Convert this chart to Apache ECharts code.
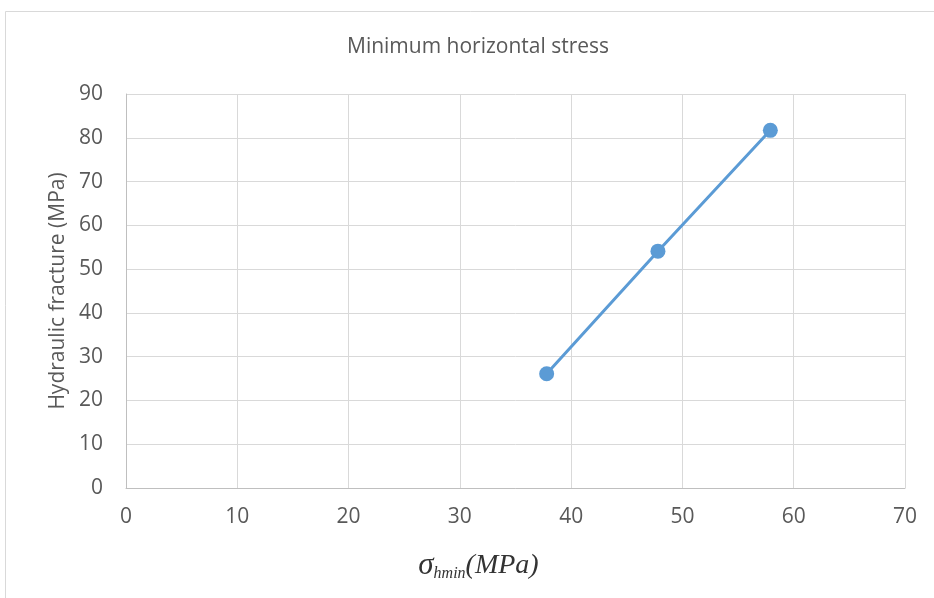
<!DOCTYPE html>
<html>
<head>
<meta charset="utf-8">
<script src="https://cdn.jsdelivr.net/npm/echarts@6/dist/echarts.min.js"></script>
<style>html,body{margin:0;padding:0;background:#fff;}#c{width:934px;height:598px;}</style>
</head>
<body>
<div id="c"></div>
<script>
var xValues = [37.8, 47.8, 57.9];
var yValues = [26.1, 54.1, 81.7];
var chartTitle = 'Minimum horizontal stress';
var yAxisName = 'Hydraulic fracture (MPa)';

var chart = echarts.init(document.getElementById('c'), null, {renderer: 'canvas'});
var pts = xValues.map(function (x, i) { return [x, yValues[i]]; });
chart.setOption({
  animation: false,
  backgroundColor: '#ffffff',
  graphic: [{
    type: 'rect', z: -10, silent: true,
    shape: {x: 5.5, y: 11.5, width: 1000, height: 1000},
    style: {fill: 'none', stroke: '#d9d9d9', lineWidth: 1}
  }],
  title: {
    text: chartTitle, left: 342, top: 32,
    textStyle: {fontFamily: 'Open Sans', fontSize: 21, fontWeight: 'normal', color: '#595959'}
  },
  grid: {left: 126, right: 29, top: 94, bottom: 110, containLabel: false},
  xAxis: {
    type: 'value', min: 0, max: 70, interval: 10,
    name: '{s|σ}{sub|hmin}{p|(MPa)}', nameLocation: 'middle', nameGap: 62,
    nameTextStyle: {
      padding: [0, 74, 0, 0],
      rich: {
        s: {fontFamily: 'Liberation Serif', fontStyle: 'italic', fontSize: 31, color: '#333'},
        sub: {fontFamily: 'Liberation Serif', fontStyle: 'italic', fontSize: 16, color: '#333', verticalAlign: 'bottom', padding: [16, 0, 0, 0]},
        p: {fontFamily: 'Liberation Serif', fontStyle: 'italic', fontSize: 28, color: '#333'}
      }
    },
    axisLine: {show: true, lineStyle: {color: '#bfbfbf', width: 1}},
    axisTick: {show: false},
    axisLabel: {margin: 19, fontFamily: 'Open Sans', fontSize: 21, color: '#595959'},
    splitLine: {show: true, lineStyle: {color: '#d9d9d9', width: 1}}
  },
  yAxis: {
    type: 'value', min: 0, max: 90, interval: 10,
    name: yAxisName, nameLocation: 'middle', nameGap: 57, nameRotate: 90,
    nameTextStyle: {fontFamily: 'Open Sans', fontSize: 21, color: '#595959'},
    axisLine: {show: true, lineStyle: {color: '#bfbfbf', width: 1}},
    axisTick: {show: false},
    axisLabel: {margin: 23, fontFamily: 'Open Sans', fontSize: 21, color: '#595959'},
    splitLine: {show: true, lineStyle: {color: '#d9d9d9', width: 1}}
  },
  series: [{
    type: 'line', data: pts,
    symbol: 'circle', symbolSize: 15,
    lineStyle: {color: '#5b9bd5', width: 3},
    itemStyle: {color: '#5b9bd5'}
  }]
});
</script>
</body>
</html>
